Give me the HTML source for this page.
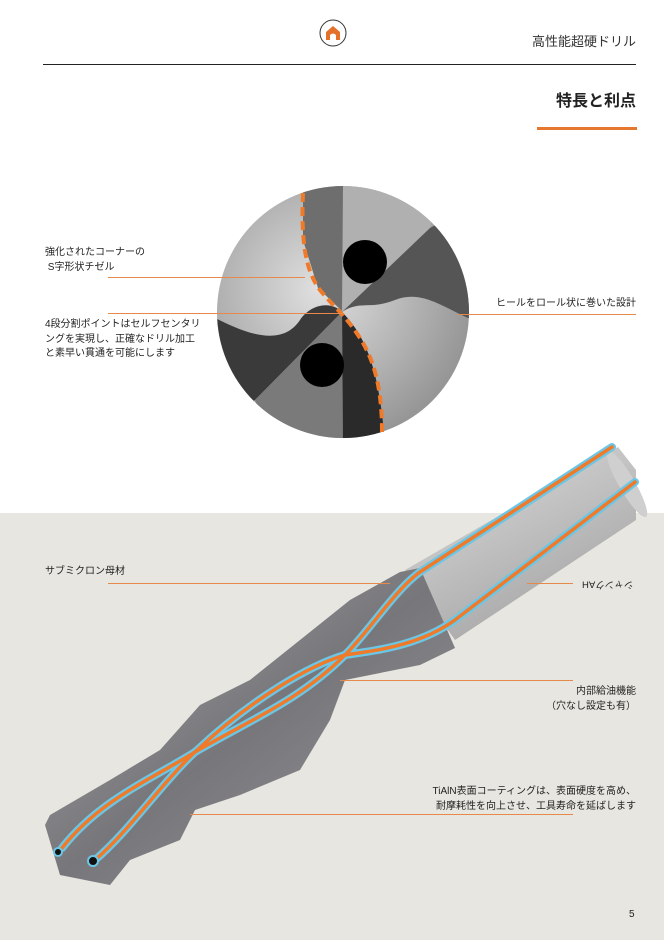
<!DOCTYPE html>
<html><head><meta charset="utf-8"><style>
body{margin:0;width:664px;height:940px;position:relative;background:#fff;font-family:"Liberation Sans","Noto Sans CJK JP",sans-serif;color:#222;overflow:hidden}
.t{position:absolute;font-size:10px;line-height:14.5px;white-space:nowrap}
.r{text-align:right}
</style></head><body>
<div style="position:absolute;left:0;top:513px;width:664px;height:427px;background:#e8e6e0"></div>
<svg width="664" height="940" style="position:absolute;left:0;top:0">
<defs>
<clipPath id="c"><circle cx="343" cy="312" r="126"/></clipPath>
<radialGradient id="lob" cx="0.4" cy="0.4" r="0.7"><stop offset="0" stop-color="#e0e0e0"/><stop offset="1" stop-color="#8a8a8a"/></radialGradient>
<linearGradient id="sh" x1="0" y1="0" x2="0.6" y2="1"><stop offset="0" stop-color="#dcdcdc"/><stop offset="0.5" stop-color="#c2c2c2"/><stop offset="1" stop-color="#a4a4a4"/></linearGradient>
<linearGradient id="bd" x1="0" y1="0" x2="1" y2="1"><stop offset="0" stop-color="#a8a8aa"/><stop offset="0.5" stop-color="#77777b"/><stop offset="1" stop-color="#9a9a9e"/></linearGradient>
</defs>
<circle cx="333" cy="33" r="13" fill="#fff" stroke="#333" stroke-width="1"/>
<path d="M326,40 V32 L333,26 L340,32 V40 H336 V35 Q333,32 330,35 V40 Z" fill="#e5702a"/>
<line x1="43" y1="64.5" x2="636" y2="64.5" stroke="#222" stroke-width="1"/>
<rect x="537" y="127" width="100" height="3" fill="#e5782e"/>
<g clip-path="url(#c)">
<rect x="215" y="185" width="260" height="260" fill="url(#lob)"/>
<polygon points="303,185 343,185 343,312 318,288 303,240" fill="#6e6e6e"/>
<polygon points="343,185 440,185 430,228 342,312" fill="#b0b0b0"/>
<path d="M430,228 L480,200 L480,318 L468,318 C440,305 420,290 395,300 C370,310 360,300 342,312 Z" fill="#555"/>
<path d="M215,318 C240,330 280,350 300,320 C310,305 330,300 342,312 L255,400 L215,420 Z" fill="#3a3a3a"/>
<polygon points="342,312 255,400 270,445 343,445" fill="#7a7a7a"/>
<path d="M342,312 L343,445 L385,445 C380,380 370,340 342,312 Z" fill="#2a2a2a"/>
<circle cx="365" cy="262" r="22" fill="#000"/>
<circle cx="322" cy="365" r="22" fill="#000"/>
</g>
<path d="M303,193 C301,240 305,270 320,290 C332,305 345,315 358,335 C375,360 382,390 382,432" fill="none" stroke="#ef7a2a" stroke-width="4" stroke-dasharray="9,5"/>
<line x1="108" y1="277.5" x2="305" y2="277.5" stroke="#e58a4a"/>
<line x1="108" y1="313.5" x2="343" y2="313.5" stroke="#e58a4a"/>
<line x1="458" y1="314.5" x2="636" y2="314.5" stroke="#e58a4a"/>
<polygon points="405,570 618,447 636,470 636,520 455,640" fill="url(#sh)"/>
<ellipse cx="627" cy="484" rx="8" ry="38" transform="rotate(-30 627 484)" fill="#cfcfcf"/>
<polygon points="400,572 420,568 455,648 420,665 345,680 330,720 300,770 240,795 195,810 180,840 130,860 110,885 60,875 45,825 50,815 110,780 160,750 200,705 250,680 300,640 350,600" fill="url(#bd)"/>
<g fill="none" stroke-linecap="round">
<path d="M612,447 L420,572 C395,590 370,630 345,655 C300,700 250,720 195,752 C150,780 100,800 62,848" stroke="#6cc6e6" stroke-width="8"/>
<path d="M635,482 L455,620 C420,645 380,650 345,655 C310,665 250,700 195,752 C160,785 130,830 95,860" stroke="#6cc6e6" stroke-width="8"/>
<path d="M612,447 L420,572 C395,590 370,630 345,655 C300,700 250,720 195,752 C150,780 100,800 62,848" stroke="#ef7a2a" stroke-width="3.5"/>
<path d="M635,482 L455,620 C420,645 380,650 345,655 C310,665 250,700 195,752 C160,785 130,830 95,860" stroke="#ef7a2a" stroke-width="3.5"/>
</g>
<circle cx="93" cy="861" r="5" fill="#111" stroke="#6cc6e6" stroke-width="2"/>
<circle cx="58" cy="852" r="4" fill="#111" stroke="#6cc6e6" stroke-width="2"/>
<line x1="108" y1="583.5" x2="390" y2="583.5" stroke="#e58a4a"/>
<line x1="527" y1="583.5" x2="573" y2="583.5" stroke="#e58a4a"/>
<line x1="340" y1="680.5" x2="573" y2="680.5" stroke="#e58a4a"/>
<line x1="190" y1="814.5" x2="573" y2="814.5" stroke="#e58a4a"/>
</svg>
<div class="t r" style="right:28px;top:35px;font-size:13px;color:#333">高性能超硬ドリル</div>
<div class="t r" style="right:28px;top:95px;font-size:16px;font-weight:bold;color:#222">特長と利点</div>
<div class="t" style="left:45px;top:246px">強化されたコーナーの<br>&nbsp;S字形状チゼル</div>
<div class="t" style="left:45px;top:318px">4段分割ポイントはセルフセンタリ<br>ングを実現し、正確なドリル加工<br>と素早い貫通を可能にします</div>
<div class="t r" style="right:28px;top:297px">ヒールをロール状に巻いた設計</div>
<div class="t" style="left:45px;top:565px">サブミクロン母材</div>
<div class="t" style="left:582px;top:576px;transform:rotate(180deg);font-size:9.5px">シャンクAH</div>
<div class="t r" style="right:28px;top:685px">内部給油機能<br>（穴なし設定も有）</div>
<div class="t r" style="right:28px;top:785px">TiAlN表面コーティングは、表面硬度を高め、<br>耐摩耗性を向上させ、工具寿命を延ばします</div>
<div class="t" style="left:629px;top:908px">5</div>
</body></html>
